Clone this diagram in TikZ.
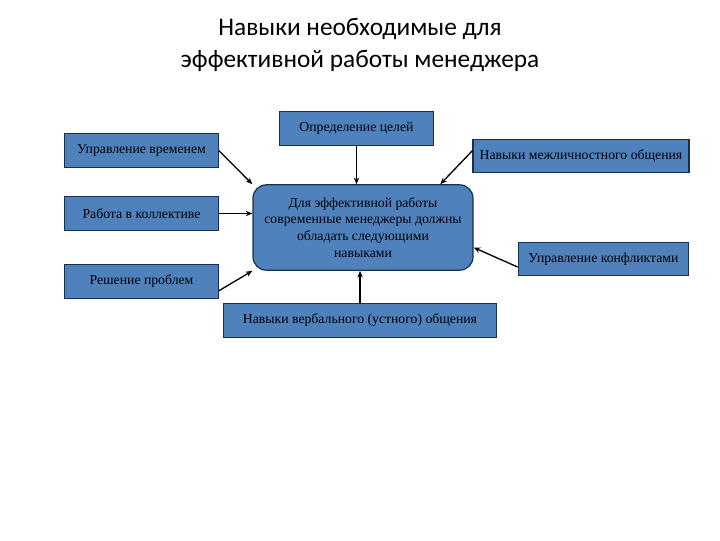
\documentclass[tikz,border=0pt]{standalone}
\usepackage{fontspec}
\setmainfont{Liberation Serif}
\newfontfamily\titlefont{Carlito}
\usetikzlibrary{arrows.meta, positioning, calc}
\definecolor{sblue}{HTML}{4F81BD}
\definecolor{sedge}{HTML}{1A2F4A}
\tikzset{
  box/.style={rectangle, draw=sedge, fill=sblue, text=black, line width=0.9pt,
              minimum height=25pt, minimum width=115pt, inner sep=0pt, align=center,
              font=\fontsize{10.3}{12.6}\selectfont},
  core/.style={box, rounded corners=10pt, minimum width=165pt, minimum height=64pt},
  flow/.style={-{Stealth[length=5pt, width=4pt]}, draw=black, line width=1pt}
}
\begin{document}
\begin{tikzpicture}[x=0.75pt, y=-0.75pt]
  \useasboundingbox (0,0) rectangle (720,540);
  \node[font=\titlefont\fontsize{19}{24}\selectfont, align=center] (title) at (360,45)
    {Навыки необходимые для\\эффективной работы менеджера};
  \node[core] (center) at (363,227.5) {Для эффективной работы\\современные менеджеры должны\\обладать следующими\\навыками};
  \node[box] (goal) at (356.5,128.5) {Определение целей};
  \node[box] (time) at (141.5,150.5) {Управление временем};
  \node[box] (team) at (141.5,213.5) {Работа в коллективе};
  \node[box] (prob) at (141.5,281.5) {Решение проблем};
  \node[box, minimum width=162pt] (inter) at (581,156) {Навыки межличностного общения};
  \node[box, minimum width=128pt] (conf) at (603.5,259) {Управление конфликтами};
  \node[box, minimum width=205pt, minimum height=26pt] (verb) at (360,320.5) {Навыки вербального (устного) общения};
  % arrows into the centre
  \draw[flow] (time.east) -- (center.north west);
  \draw[flow] (team.east) -- (team.east -| center.west);
  \draw[flow] ([yshift=-7pt]prob.east) -- (center.south west);
  \draw[flow] (goal.south) -- (goal.south |- center.north);
  \draw[flow] ([yshift=4pt]inter.west) -- ([xshift=-25pt]center.north east);
  \draw[flow] ([yshift=-6pt]conf.west) -- ([yshift=-15pt]center.east);
  \draw[flow] (verb.north) -- (verb.north |- center.south);
\end{tikzpicture}
\end{document}
